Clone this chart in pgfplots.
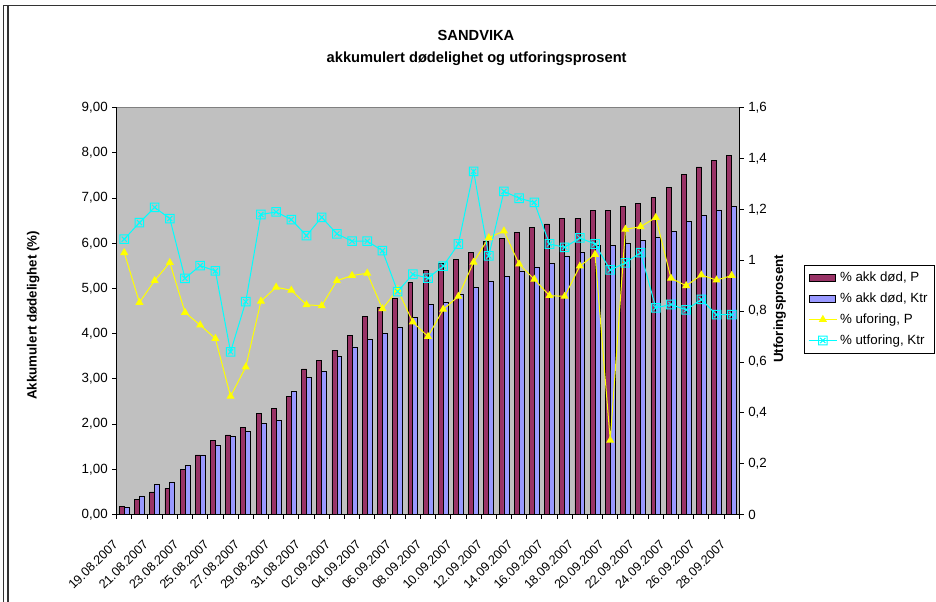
\documentclass[border=0pt]{standalone}
\usepackage{fontspec}
\setmainfont{Liberation Sans}
\usepackage{pgfplots}
\pgfplotsset{compat=1.18}
\definecolor{plum}{HTML}{993366}
\definecolor{peri}{HTML}{9999FF}
\definecolor{silv}{HTML}{C0C0C0}
\definecolor{cyanx}{HTML}{00FFFF}
\definecolor{yell}{HTML}{FFFF00}
\pgfdeclareplotmark{boxx}{%
  \pgfpathrectangle{\pgfpoint{-\pgfplotmarksize}{-\pgfplotmarksize}}{\pgfpoint{2\pgfplotmarksize}{2\pgfplotmarksize}}%
  \pgfpathmoveto{\pgfpoint{-0.6\pgfplotmarksize}{-0.6\pgfplotmarksize}}%
  \pgfpathlineto{\pgfpoint{0.6\pgfplotmarksize}{0.6\pgfplotmarksize}}%
  \pgfpathmoveto{\pgfpoint{-0.6\pgfplotmarksize}{0.6\pgfplotmarksize}}%
  \pgfpathlineto{\pgfpoint{0.6\pgfplotmarksize}{-0.6\pgfplotmarksize}}%
  \pgfusepathqstroke}
\pgfplotsset{barleg/.style={legend image code/.code={\draw[##1] (0pt,-2.6pt) rectangle (20pt,2.6pt);}}}
\begin{document}
\begin{tikzpicture}
\path[use as bounding box] (0,0) rectangle (702pt,451.5pt);
\draw[line width=1.1pt, black!80] (2.5pt,0) -- (2.5pt,447.4pt) -- (702pt,447.4pt);
\draw[line width=1.1pt, black!80] (6pt,0) -- (6pt,446.8pt);
\node[anchor=base, font=\fontsize{11}{13}\selectfont\bfseries] at (357pt,421pt) {SANDVIKA};
\node[anchor=base, font=\fontsize{11}{13}\selectfont\bfseries] at (357.5pt,404.8pt) {akkumulert dødelighet og utforingsprosent};
\begin{axis}[
  at={(87.5pt,65.6pt)}, anchor=south west, scale only axis,
  width=467pt, height=305.1pt,
  xmin=-0.5, xmax=40.5, ymin=0, ymax=9,
  ybar=0pt, bar width=3.7pt,
  axis x line*=bottom, axis y line*=left,
  axis line style={-, black, line width=0.8pt},
  axis background/.style={fill=silv, draw=gray},
  xtick={-0.5,0.5,...,40.5}, xticklabels={},
  extra x ticks={0,2,...,40},
  extra x tick labels={19.08.2007,21.08.2007,23.08.2007,25.08.2007,27.08.2007,29.08.2007,31.08.2007,02.09.2007,04.09.2007,06.09.2007,08.09.2007,10.09.2007,12.09.2007,14.09.2007,16.09.2007,18.09.2007,20.09.2007,22.09.2007,24.09.2007,26.09.2007,28.09.2007},
  extra x tick style={major tick length=0pt},
  xticklabel style={font=\fontsize{9.5}{11}\selectfont, inner sep=0pt, xshift=-9pt, yshift=-18pt, rotate=45, anchor=north east},
  ytick={0,1,...,9},
  major tick length=3.2pt, tick align=outside,
  tick style={black, line width=0.7pt},
  yticklabel style={font=\fontsize{10}{12}\selectfont, /pgf/number format/.cd, fixed, fixed zerofill, precision=2, use comma, assume math mode=true},
  ylabel={\bfseries Akkumulert dødelighet (\%)},
  ylabel style={at={(axis description cs:-0.134,0.49)}, anchor=center, font=\fontsize{10}{12}\selectfont},
]
\addplot[fill=plum, draw=black, line width=0.5pt] coordinates {
(0,0.18) (1,0.33) (2,0.50) (3,0.58) (4,1.00) (5,1.32) (6,1.64) (7,1.76) (8,1.93) (9,2.24)
(10,2.35) (11,2.61) (12,3.22) (13,3.41) (14,3.63) (15,3.96) (16,4.39) (17,4.59) (18,4.78) (19,5.14)
(20,5.40) (21,5.55) (22,5.65) (23,5.79) (24,6.05) (25,6.11) (26,6.24) (27,6.36) (28,6.43) (29,6.55)
(30,6.55) (31,6.72) (32,6.72) (33,6.81) (34,6.89) (35,7.01) (36,7.23) (37,7.52) (38,7.69) (39,7.83) (40,7.94)};
\addplot[fill=peri, draw=black, line width=0.5pt] coordinates {
(0,0.15) (1,0.41) (2,0.67) (3,0.72) (4,1.09) (5,1.32) (6,1.52) (7,1.72) (8,1.84) (9,2.01)
(10,2.09) (11,2.72) (12,3.03) (13,3.17) (14,3.49) (15,3.71) (16,3.88) (17,4.01) (18,4.15) (19,4.37)
(20,4.64) (21,4.69) (22,4.87) (23,5.03) (24,5.17) (25,5.26) (26,5.38) (27,5.48) (28,5.56) (29,5.72)
(30,5.79) (31,5.96) (32,5.96) (33,5.99) (34,6.07) (35,6.13) (36,6.26) (37,6.48) (38,6.62) (39,6.74) (40,6.81)};
\end{axis}
\begin{axis}[
  at={(87.5pt,65.6pt)}, anchor=south west, scale only axis,
  width=467pt, height=305.1pt,
  xmin=-0.5, xmax=40.5, ymin=0, ymax=1.6,
  axis x line=none, axis y line*=right,
  axis line style={-, black, line width=0.8pt},
  ytick={0,0.2,0.4,0.6,0.8,1,1.2,1.4,1.6},
  major tick length=3.2pt, tick align=outside,
  tick style={black, line width=0.7pt},
  yticklabel style={font=\fontsize{10}{12}\selectfont, /pgf/number format/.cd, use comma, assume math mode=true},
  ylabel={\bfseries Utforingsprosent},
  ylabel style={at={(axis description cs:1.065,0.506)}, anchor=center, font=\fontsize{10}{12}\selectfont},
  legend image code/.code={\draw[mark repeat=2,mark phase=2,#1] plot coordinates {(0pt,0pt) (10.5pt,0pt) (21pt,0pt)};},
  legend cell align=left,
  legend style={at={(axis description cs:1.104,0.614)}, anchor=north west, draw=black, fill=white,
    font=\fontsize{10}{12}\selectfont, row sep=3pt, inner xsep=3pt, inner ysep=3pt},
]
\addlegendimage{barleg, fill=plum, draw=black}
\addlegendimage{barleg, fill=peri, draw=black}
\addplot[yell, line width=0.75pt, mark=triangle*, mark size=2.8pt, mark options={fill=yell, draw=yell}] coordinates {
(0,1.030) (1,0.834) (2,0.920) (3,0.991) (4,0.795) (5,0.745) (6,0.692) (7,0.465) (8,0.580) (9,0.839)
(10,0.894) (11,0.882) (12,0.825) (13,0.821) (14,0.920) (15,0.940) (16,0.949) (17,0.809) (18,0.885) (19,0.757)
(20,0.700) (21,0.807) (22,0.858) (23,0.992) (24,1.089) (25,1.115) (26,0.985) (27,0.925) (28,0.861) (29,0.858)
(30,0.977) (31,1.023) (32,0.292) (33,1.122) (34,1.132) (35,1.168) (36,0.929) (37,0.900) (38,0.942) (39,0.922) (40,0.940)};
\addplot[cyanx, line width=0.75pt, mark=boxx, mark size=3.2pt, mark options={solid}] coordinates {
(0,1.083) (1,1.148) (2,1.208) (3,1.164) (4,0.929) (5,0.979) (6,0.958) (7,0.640) (8,0.837) (9,1.180)
(10,1.190) (11,1.160) (12,1.097) (13,1.169) (14,1.104) (15,1.075) (16,1.075) (17,1.038) (18,0.877) (19,0.945)
(20,0.930) (21,0.977) (22,1.064) (23,1.350) (24,1.017) (25,1.271) (26,1.244) (27,1.228) (28,1.064) (29,1.051)
(30,1.088) (31,1.064) (32,0.962) (33,0.990) (34,1.030) (35,0.813) (36,0.826) (37,0.805) (38,0.846) (39,0.786) (40,0.786)};
\legend{{\% akk død, P}, {\% akk død, Ktr}, {\% uforing, P}, {\% utforing, Ktr}}
\end{axis}
\end{tikzpicture}
\end{document}
